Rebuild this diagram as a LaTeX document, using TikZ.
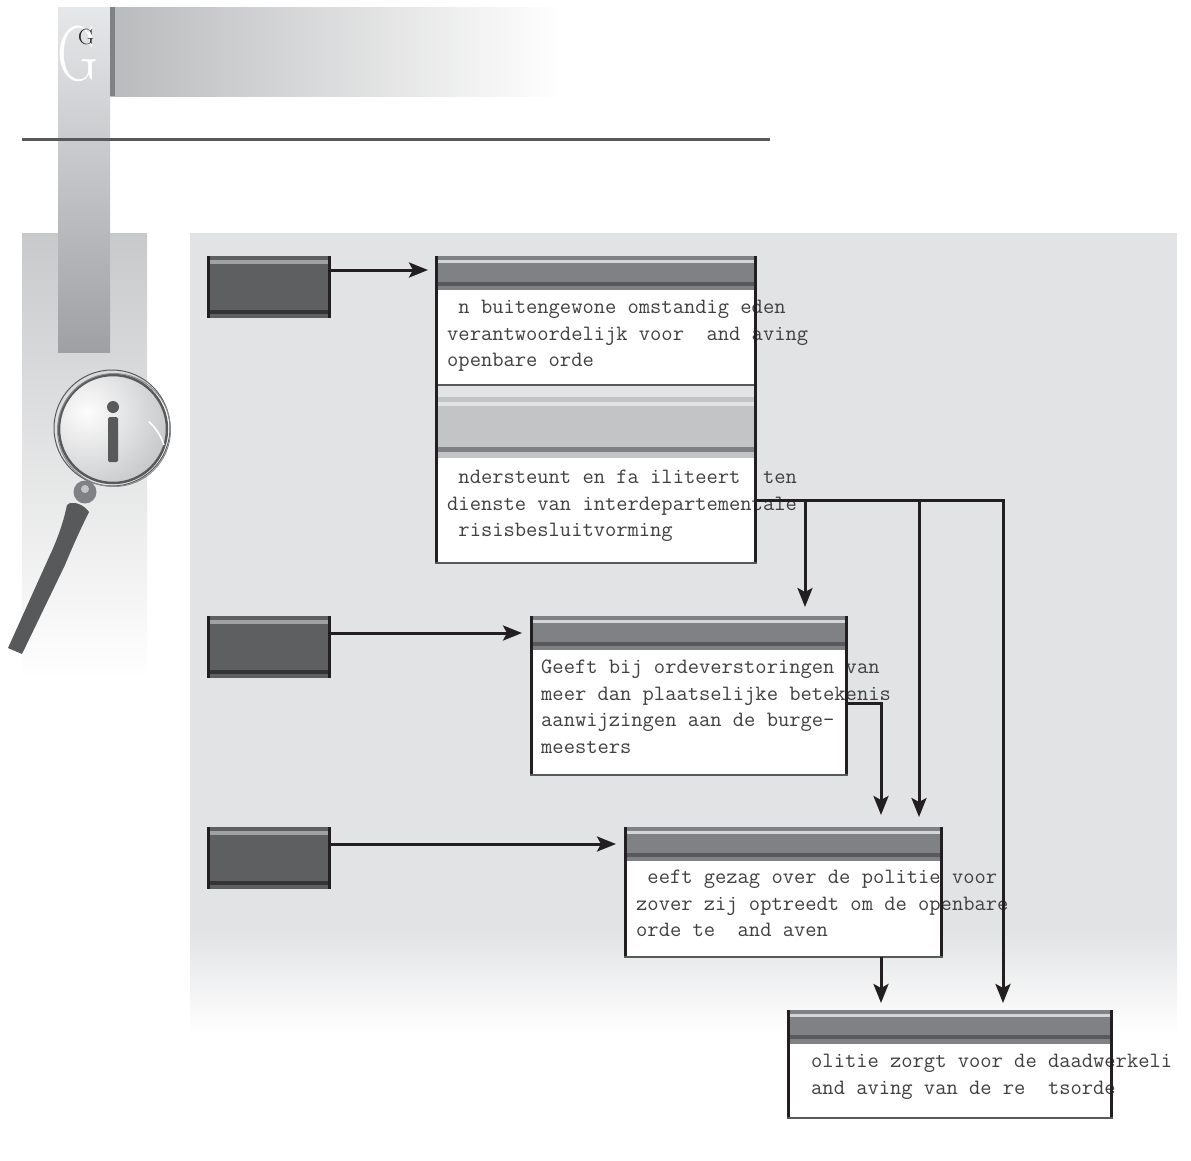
\documentclass[tikz,border=0pt]{standalone}
\usetikzlibrary{calc,arrows.meta}
\definecolor{panelgray}{HTML}{E2E3E5}
\definecolor{stripgray}{HTML}{C8C9CB}
\definecolor{columntop}{HTML}{E6E7E9}
\definecolor{columnbottom}{HTML}{9FA0A3}
\definecolor{headgray}{HTML}{808184}
\definecolor{headlight}{HTML}{D4D5D7}
\definecolor{headdark}{HTML}{58595B}
\definecolor{softgray}{HTML}{C3C4C6}
\definecolor{rolegray}{HTML}{5E5F61}
\definecolor{rolelight}{HTML}{A0A1A3}
\definecolor{roledark}{HTML}{333335}
\definecolor{inkblack}{HTML}{231F20}
\definecolor{textgray}{HTML}{404041}
\tikzset{
  rolebox/.style={anchor=north west,inner sep=0pt,outer sep=0pt,minimum width=124pt,minimum height=62pt,fill=rolegray},
  bodybox/.style={anchor=north west,inner sep=0pt,outer sep=0pt,fill=white},
  bodytext/.style={anchor=north west,inner sep=0pt,align=left,text=textgray,font=\fontsize{21.9}{26.5}\selectfont\ttfamily},
  sideline/.style={inkblack,line width=3pt},
  baseline/.style={headdark,line width=1.5pt},
  link/.style={-{Stealth[length=19pt,width=15pt,inset=4pt]},inkblack,line width=3pt},
}
\begin{document}
\begin{tikzpicture}[x=1pt,y=-1pt]
    \useasboundingbox (0,0) rectangle (1191,1160);
    % Page decoration
    \shade[top color=stripgray,bottom color=white] (22,233) rectangle (147,680);
    \shade[top color=columntop,bottom color=columnbottom] (58,7) rectangle (110,352);
    \shade[left color=softgray!95!black,right color=white] (110,7) rectangle (562,96);
    \fill[headgray] (110,7) rectangle (115,96);
    \fill[headdark] (22,137.5) rectangle (770,141);
    \node[text=white,font=\fontsize{78}{78}\selectfont,xscale=0.72,inner sep=0pt] (bigG) at (78,54) {G};
    \node[text=inkblack,font=\fontsize{22}{22}\selectfont,inner sep=0pt] (smallG) at (86,37) {G};

    % Panel
    \fill[panelgray] (190,233) rectangle (1177,930);
    \shade[top color=panelgray,bottom color=white] (190,930) rectangle (1177,1034);

    % Magnifier
    \begin{scope}
      \clip (113,429) circle[radius=53pt];
      \shade[inner color=white!92!panelgray,outer color=softgray] (87,412) circle[radius=90pt];
    \end{scope}
    \draw[headdark,line width=2.5pt] (113,429) circle[radius=54pt];
    \draw[headdark,line width=1pt] (112,428) circle[radius=58pt];
    \draw[headdark!70,line width=1pt] (114,430) circle[radius=56.5pt];
    \draw[white,line width=1.5pt] (164,445) arc[start angle=18,end angle=48,radius=54pt];
    \fill[headdark] (113,407) circle[radius=6pt];
    \fill[headdark,rounded corners=1.5pt] (108,417) rectangle (118,462);
    \fill[headgray] (85,492) circle[radius=11.5pt];
    \fill[softgray] (85,489) circle[radius=4pt];
    \fill[headdark] (70,503) .. controls (76,502) and (84,505) .. (89,512) .. controls (80,530) and (72,548) .. (65,565)
      -- (22,654) -- (8,648) -- (50,555) .. controls (58,538) and (64,520) .. (67,505) -- cycle;

    % Role one
    \node[rolebox] (roleA) at (207,256) {};
    \fill[rolelight] (207,260) rectangle (331,264);
    \fill[roledark] (207,310) rectangle (331,314);
    \draw[sideline] ($(roleA.north west)+(1.5,0)$) -- ($(roleA.south west)+(1.5,0)$);
    \draw[sideline] ($(roleA.north east)+(-1.5,0)$) -- ($(roleA.south east)+(-1.5,0)$);

    % Role two
    \node[rolebox] (roleB) at (207,616) {};
    \fill[rolelight] (207,620) rectangle (331,624);
    \fill[roledark] (207,670) rectangle (331,674);
    \draw[sideline] ($(roleB.north west)+(1.5,0)$) -- ($(roleB.south west)+(1.5,0)$);
    \draw[sideline] ($(roleB.north east)+(-1.5,0)$) -- ($(roleB.south east)+(-1.5,0)$);

    % Role three
    \node[rolebox] (roleC) at (207,827) {};
    \fill[rolelight] (207,831) rectangle (331,835);
    \fill[roledark] (207,881) rectangle (331,885);
    \draw[sideline] ($(roleC.north west)+(1.5,0)$) -- ($(roleC.south west)+(1.5,0)$);
    \draw[sideline] ($(roleC.north east)+(-1.5,0)$) -- ($(roleC.south east)+(-1.5,0)$);

    % Box one, upper part
    \node[bodybox,minimum width=322pt,minimum height=129pt] (boxA) at (435,256) {};
    \fill[headgray] (435,256) rectangle (757,290);
    \fill[headlight] (435,260) rectangle (757,263);
    \fill[headdark] (435,282) rectangle (757,286);
    \node[bodytext] (textA) at (447,300) {~n buitengewone omstandig~eden\\verantwoordelijk voor~~and~aving\\openbare orde};

    % Box one, lower part
    \node[bodybox,minimum width=322pt,minimum height=178pt] (boxAlow) at (435,385) {};
    \fill[panelgray] (435,385) rectangle (757,397);
    \fill[softgray] (435,397) rectangle (757,458);
    \fill[panelgray] (435,402) rectangle (757,406);
    \fill[headgray] (435,447) rectangle (757,452);
    \draw[baseline] (boxAlow.north west) -- (boxAlow.north east);
    \node[bodytext] (textAlow) at (447,470) {~ndersteunt en fa~iliteert~~ten\\dienste van interdepartementale\\~risisbesluitvorming};
    \draw[sideline] ($(boxA.north west)+(1.5,0)$) -- ($(boxAlow.south west)+(1.5,0)$);
    \draw[sideline] ($(boxA.north east)+(-1.5,0)$) -- ($(boxAlow.south east)+(-1.5,0)$);
    \draw[baseline] (boxAlow.south west) -- (boxAlow.south east);

    % Box two
    \node[bodybox,minimum width=318pt,minimum height=159pt] (boxB) at (530,616) {};
    \fill[headgray] (530,616) rectangle (848,650);
    \fill[headlight] (530,620) rectangle (848,623);
    \fill[headdark] (530,642) rectangle (848,646);
    \node[bodytext] (textB) at (541,660) {Geeft bij ordeverstoringen van\\meer dan plaatselijke betekenis\\aanwijzingen aan de burge-\\meesters};
    \draw[sideline] ($(boxB.north west)+(1.5,0)$) -- ($(boxB.south west)+(1.5,0)$);
    \draw[sideline] ($(boxB.north east)+(-1.5,0)$) -- ($(boxB.south east)+(-1.5,0)$);
    \draw[baseline] (boxB.south west) -- (boxB.south east);

    % Box three
    \node[bodybox,minimum width=319pt,minimum height=130pt] (boxC) at (624,827) {};
    \fill[headgray] (624,827) rectangle (943,861);
    \fill[headlight] (624,831) rectangle (943,834);
    \fill[headdark] (624,853) rectangle (943,857);
    \node[bodytext] (textC) at (636,870) {~eeft gezag over de politie voor\\zover zij optreedt om de openbare\\orde te~~and~aven};
    \draw[sideline] ($(boxC.north west)+(1.5,0)$) -- ($(boxC.south west)+(1.5,0)$);
    \draw[sideline] ($(boxC.north east)+(-1.5,0)$) -- ($(boxC.south east)+(-1.5,0)$);
    \draw[baseline] (boxC.south west) -- (boxC.south east);

    % Box four
    \node[bodybox,minimum width=326pt,minimum height=108pt] (boxD) at (787,1010) {};
    \fill[headgray] (787,1010) rectangle (1113,1044);
    \fill[headlight] (787,1014) rectangle (1113,1017);
    \fill[headdark] (787,1035) rectangle (1113,1039);
    \node[bodytext] (textD) at (811,1054) {olitie zorgt voor de daadwerkeli\\and~aving van de re~~tsorde};
    \draw[sideline] ($(boxD.north west)+(1.5,0)$) -- ($(boxD.south west)+(1.5,0)$);
    \draw[sideline] ($(boxD.north east)+(-1.5,0)$) -- ($(boxD.south east)+(-1.5,0)$);
    \draw[baseline] (boxD.south west) -- (boxD.south east);

    % Role arrows
    \draw[link] ($(roleA.north east)+(0,14)$) -- ($(boxA.north west)+(-7,14)$);
    \draw[link] ($(roleB.north east)+(0,17)$) -- ($(boxB.north west)+(-8,17)$);
    \draw[link] ($(roleC.north east)+(0,17)$) -- ($(boxC.north west)+(-8,17)$);

    % Arrows between boxes
    \coordinate (splitA) at ($(boxAlow.north east)+(0,115)$);
    \coordinate (tipB) at ($(boxB.north west)+(275,-9)$);
    \coordinate (tipC) at ($(boxC.north west)+(295,-10)$);
    \coordinate (tipD) at ($(boxD.north west)+(216,-7)$);
    \coordinate (splitB) at ($(boxB.north east)+(0,87)$);
    \coordinate (tipBC) at ($(boxC.north west)+(257,-12)$);
    \coordinate (tipCD) at ($(boxD.north west)+(94,-7)$);
    \draw[link] (splitA) -| (tipB);
    \draw[link] (splitA) -| (tipC);
    \draw[link] (splitA) -| (tipD);
    \draw[link] (splitB) -| (tipBC);
    \draw[link] (boxC.south -| tipCD) -- (tipCD);
\end{tikzpicture}
\end{document}
